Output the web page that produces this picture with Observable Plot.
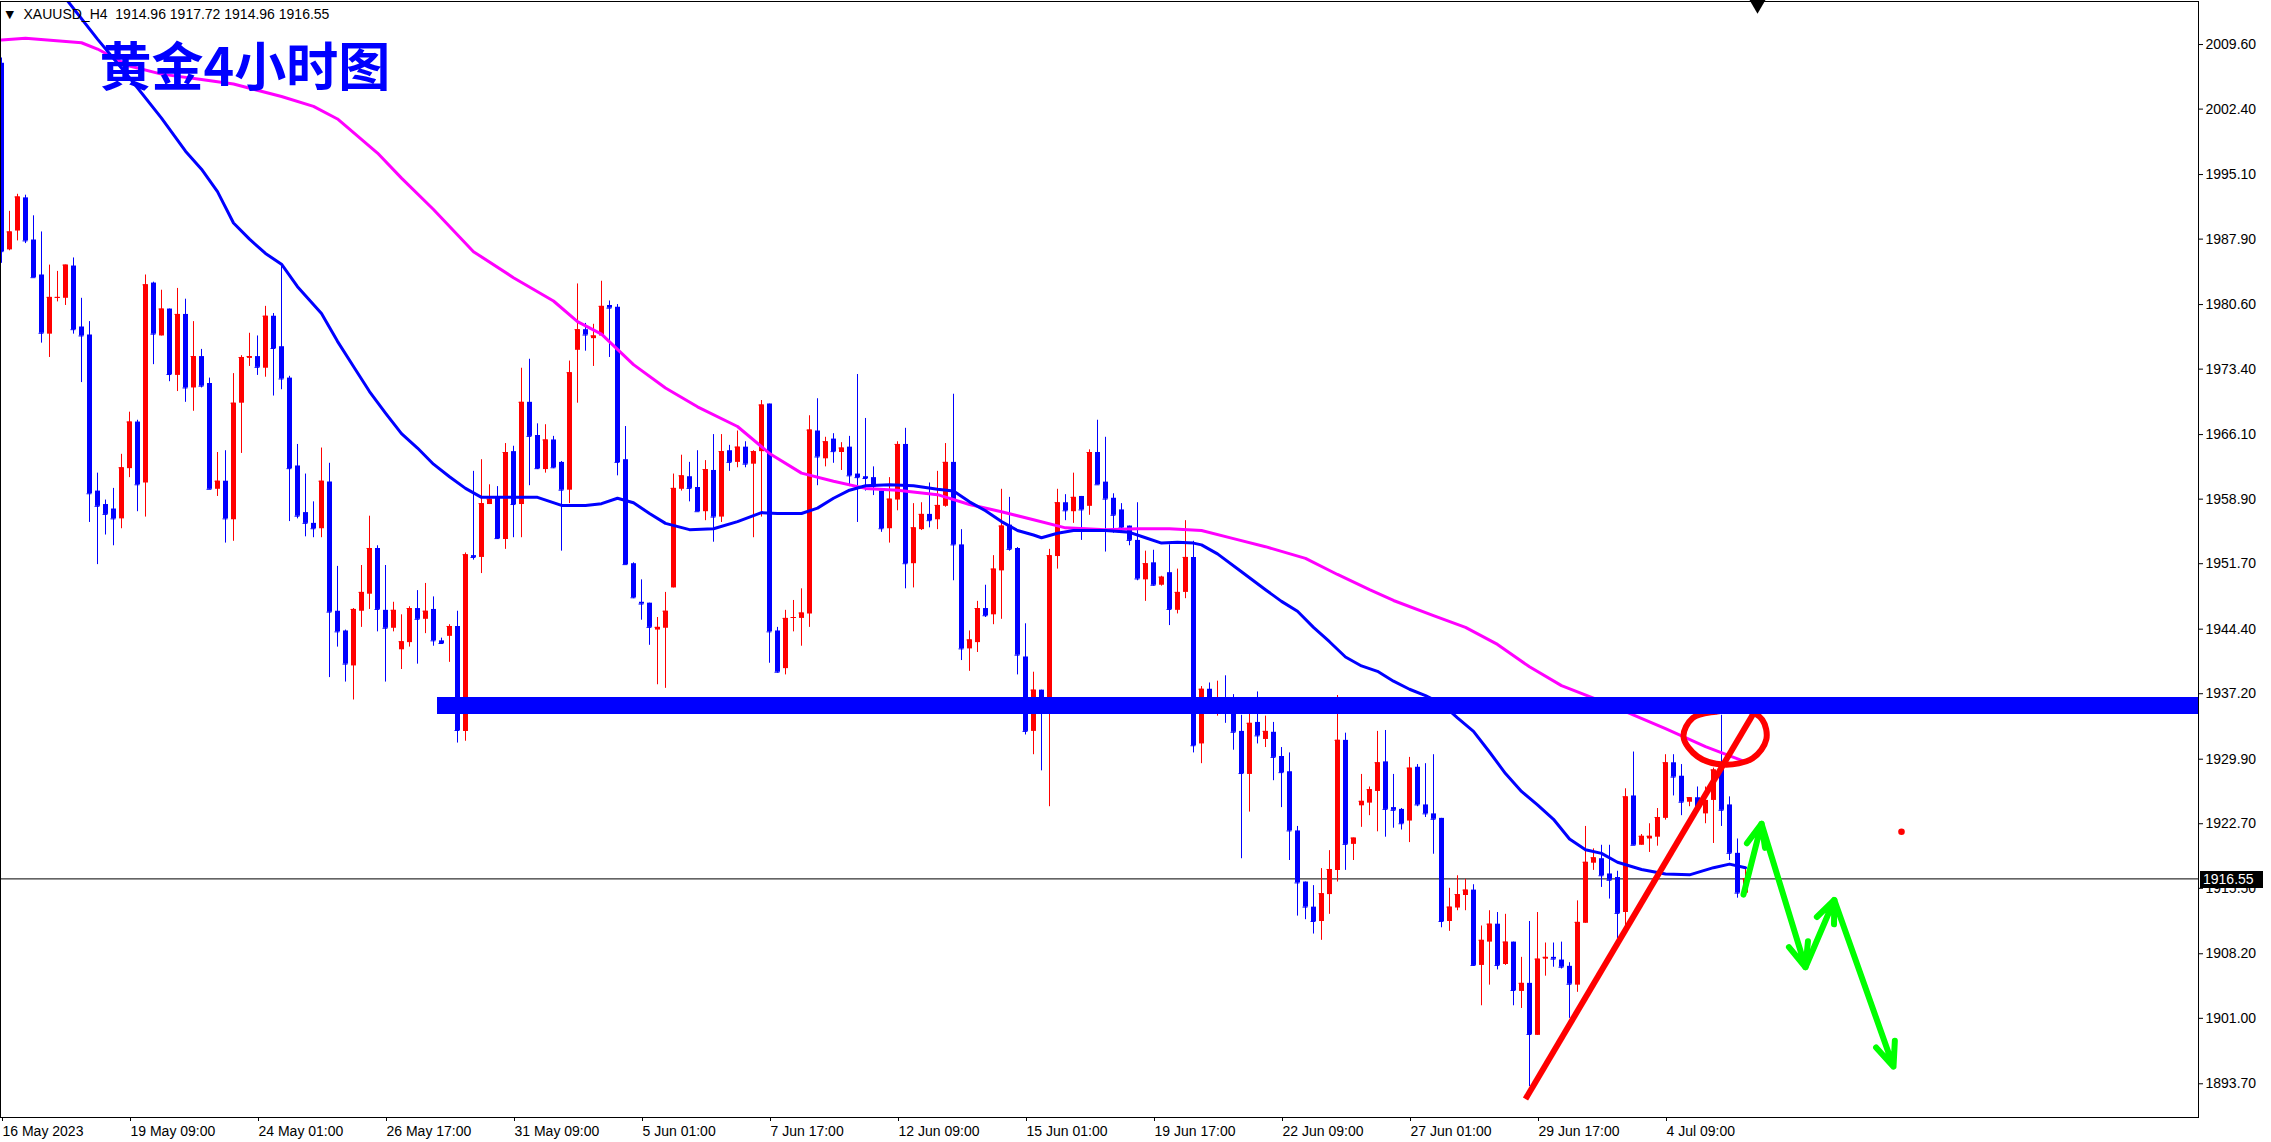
<!DOCTYPE html>
<html><head><meta charset="utf-8">
<script src="https://cdn.jsdelivr.net/npm/d3@7"></script>
<script src="https://cdn.jsdelivr.net/npm/@observablehq/plot@0.6"></script>
<style>
html,body{margin:0;padding:0;background:#fff;overflow:hidden;}
#chart{position:relative;width:2271px;height:1142px;}
#chart svg{position:absolute;left:0;top:0;}
#edge{position:absolute;right:0;top:0;width:4px;height:1142px;background:#ececec;}
#last{position:absolute;background:#000;color:#fff;font:14px 'Liberation Sans',Arial,sans-serif;height:17px;line-height:17px;width:60px;padding-left:3px;z-index:5;}
</style></head><body><div id="chart"><div id="edge"></div><div id="last"></div></div>
<script>
// ---- data (XAUUSD H4) ----
const opens = [
2007.5,1986.7,1988.8,1992.5,1987.8,1983.9,1977.3,1981.3,1981.3,1984.9,
1978.1,1977.2,1959.8,1958.3,1957.8,1956.7,1962.3,1967.5,1960.7,1983.0,
1977.1,1980.1,1972.7,1979.5,1971.3,1974.8,1971.8,1960.0,1960.9,1956.6,
1969.6,1974.6,1974.8,1973.5,1979.3,1975.9,1972.4,1962.6,1957.4,1956.2,
1955.6,1960.8,1946.4,1944.2,1940.3,1946.4,1948.3,1953.4,1946.5,1944.5,
1942.1,1942.9,1946.7,1945.5,1946.6,1943.1,1943.6,1944.7,1933.0,1952.6,
1952.4,1958.3,1959.0,1954.4,1964.2,1958.3,1969.7,1966.0,1962.2,1965.5,
1963.0,1959.9,1975.5,1977.8,1976.8,1977.1,1980.5,1980.3,1963.3,1951.7,
1947.4,1947.3,1944.3,1944.5,1949.0,1960.0,1961.4,1960.2,1957.5,1962.1,
1956.9,1964.3,1963.0,1964.7,1962.8,1964.2,1969.5,1944.2,1940.0,1945.6,
1945.6,1946.1,1966.5,1963.4,1965.6,1964.1,1964.7,1961.7,1961.4,1961.3,
1959.8,1955.6,1958.8,1965.0,1951.7,1955.5,1957.2,1956.6,1958.1,1963.0,
1953.8,1942.2,1942.9,1946.7,1946.0,1950.9,1956.0,1953.4,1941.3,1933.0,
1937.6,1935.9,1952.5,1958.5,1957.5,1959.2,1958.1,1964.1,1960.8,1959.0,
1957.7,1955.9,1954.3,1949.9,1951.8,1949.3,1950.7,1946.5,1948.5,1952.4,
1931.6,1937.7,1935.2,1936.3,1935.0,1933.0,1928.2,1934.0,1932.1,1932.9,
1930.2,1928.5,1921.9,1916.2,1913.4,1911.8,1914.8,1917.5,1932.0,1920.4,
1924.7,1925.0,1926.3,1929.6,1924.5,1924.3,1923.0,1929.0,1924.8,1923.8,
1923.3,1911.8,1913.3,1914.7,1915.3,1906.9,1909.5,1911.5,1907.0,1909.5,
1904.0,1904.9,1899.1,1907.6,1907.8,1907.5,1906.8,1904.7,1911.6,1918.3,
1918.8,1917.1,1916.7,1912.8,1925.8,1920.3,1921.0,1921.2,1923.3,1929.5,
1928.0,1925.1,1925.6,1923.8,1925.3,1929.1,1924.8,1919.4,1914.96];
const highs = [
2008.1,1991.0,1992.9,1992.8,1990.5,1988.7,1985.0,1984.3,1985.0,1985.8,
1981.3,1978.7,1961.8,1958.8,1960.1,1963.9,1968.6,1967.7,1983.9,1983.1,
1982.2,1980.1,1982.4,1981.2,1978.7,1975.6,1972.4,1964.1,1964.3,1972.9,
1974.9,1977.4,1977.1,1980.4,1979.6,1984.9,1972.6,1965.0,1961.7,1958.6,
1964.6,1962.9,1951.4,1944.3,1946.7,1951.5,1957.0,1953.7,1951.5,1947.4,
1946.0,1946.9,1948.7,1949.5,1948.0,1943.4,1944.9,1946.4,1952.9,1962.0,
1963.3,1960.5,1960.3,1965.1,1964.8,1973.5,1974.5,1967.3,1967.2,1965.9,
1963.1,1974.3,1982.9,1978.5,1978.4,1983.2,1981.0,1980.6,1967.0,1951.8,
1949.9,1947.3,1945.7,1948.5,1961.7,1963.8,1963.0,1964.3,1963.2,1966.1,
1966.1,1964.9,1966.5,1965.3,1964.3,1969.9,1969.5,1944.6,1946.5,1947.6,
1948.9,1968.2,1970.1,1965.8,1966.2,1965.2,1965.9,1972.8,1967.9,1962.5,
1959.8,1961.3,1965.3,1966.8,1958.4,1958.5,1960.7,1962.0,1965.1,1970.6,
1955.5,1944.2,1947.5,1949.3,1952.6,1960.0,1959.1,1953.5,1945.0,1939.6,
1937.6,1953.3,1960.0,1959.4,1961.8,1959.2,1964.4,1967.7,1965.8,1959.5,
1958.4,1955.9,1958.5,1953.1,1953.2,1950.3,1953.8,1951.1,1956.5,1954.2,
1938.0,1938.4,1938.6,1939.2,1937.1,1934.8,1935.0,1937.4,1934.7,1934.0,
1931.2,1930.6,1922.4,1916.2,1915.8,1917.7,1919.7,1937.0,1932.8,1921.1,
1928.2,1926.8,1933.0,1933.1,1928.2,1924.4,1930.1,1929.3,1929.4,1930.4,
1923.3,1915.5,1916.9,1916.5,1915.9,1911.3,1913.0,1912.8,1912.6,1909.5,
1907.8,1911.8,1912.8,1909.4,1909.4,1909.5,1907.2,1914.1,1922.4,1919.9,
1920.3,1920.3,1917.4,1926.6,1930.7,1921.5,1922.7,1924.4,1930.4,1930.4,
1929.3,1925.6,1926.8,1926.8,1928.9,1934.8,1925.7,1921.0,1917.72];
const lows = [
1985.2,1986.6,1987.7,1987.4,1983.6,1976.3,1974.7,1980.9,1980.5,1977.3,
1971.9,1956.3,1951.6,1954.9,1953.7,1955.6,1961.3,1957.5,1956.9,1973.9,
1977.1,1972.0,1970.9,1969.7,1968.7,1971.3,1960.0,1959.2,1954.0,1954.2,
1964.0,1973.7,1972.7,1972.5,1970.4,1971.1,1956.4,1956.7,1954.7,1954.6,
1954.6,1939.0,1942.4,1938.5,1936.5,1944.6,1946.6,1944.1,1938.5,1944.1,
1939.9,1942.4,1940.5,1943.9,1942.5,1942.7,1940.7,1931.7,1931.9,1952.1,
1950.6,1958.3,1954.4,1953.3,1954.6,1954.6,1960.4,1962.2,1961.8,1962.3,
1953.1,1958.4,1969.6,1975.4,1973.7,1977.1,1974.7,1961.5,1951.6,1947.8,
1945.4,1942.6,1938.2,1937.8,1949.0,1959.8,1958.6,1957.5,1956.5,1954.1,
1956.3,1962.0,1962.4,1962.4,1954.6,1956.9,1940.6,1939.5,1939.3,1944.1,
1942.5,1944.6,1960.4,1962.5,1962.9,1962.1,1960.3,1956.3,1959.8,1959.3,
1955.2,1954.0,1957.6,1948.9,1949.0,1955.4,1955.7,1955.5,1958.0,1949.8,
1940.9,1939.7,1941.8,1945.7,1944.9,1945.5,1953.1,1939.3,1932.6,1930.4,
1928.6,1924.6,1951.1,1956.5,1956.2,1954.3,1957.1,1960.5,1953.0,1955.1,
1955.3,1953.7,1949.8,1947.5,1949.2,1949.2,1944.8,1946.1,1947.8,1930.6,
1929.4,1935.4,1934.7,1933.9,1930.9,1918.8,1924.0,1931.6,1931.2,1927.5,
1924.5,1918.6,1912.4,1912.0,1910.4,1909.7,1912.6,1916.2,1917.5,1918.6,
1922.3,1923.6,1921.8,1921.2,1922.2,1922.0,1920.6,1924.6,1923.4,1919.3,
1911.1,1910.7,1913.0,1913.0,1906.8,1902.4,1904.7,1906.4,1906.9,1902.4,
1902.1,1893.4,1899.1,1905.7,1906.7,1906.5,1901.0,1903.9,1911.6,1917.5,
1915.6,1914.3,1909.9,1911.0,1920.3,1920.3,1919.5,1920.2,1923.1,1925.8,
1923.6,1924.6,1924.0,1922.7,1920.5,1922.4,1918.6,1914.4,1914.96];
const closes = [
1986.5,1988.7,1992.6,1987.7,1983.6,1977.4,1981.4,1981.4,1985.0,1977.8,
1977.1,1959.5,1958.1,1957.2,1956.7,1962.4,1967.5,1960.5,1982.8,1977.3,
1980.1,1972.8,1979.5,1971.3,1974.8,1971.5,1960.0,1960.9,1956.7,1969.6,
1974.7,1974.8,1973.6,1979.3,1975.7,1972.3,1962.3,1957.0,1956.2,1955.6,
1960.9,1946.3,1944.1,1940.5,1946.6,1948.5,1953.4,1946.6,1944.5,1946.5,
1943.0,1946.7,1945.5,1946.4,1943.1,1942.8,1944.7,1933.1,1952.7,1952.4,
1958.4,1958.9,1954.5,1964.1,1958.3,1969.7,1965.9,1962.3,1965.5,1962.4,
1959.9,1973.0,1977.8,1977.2,1977.1,1980.4,1980.2,1963.0,1951.6,1947.9,
1947.2,1944.6,1944.6,1946.4,1960.1,1961.5,1960.1,1957.5,1962.2,1956.9,
1964.2,1963.0,1964.7,1962.8,1964.2,1969.4,1944.1,1939.6,1945.6,1945.7,
1946.2,1966.6,1963.6,1965.3,1964.2,1964.6,1961.5,1961.3,1961.2,1960.3,
1955.6,1958.9,1965.0,1951.7,1955.7,1957.2,1956.5,1958.2,1963.0,1953.8,
1942.2,1943.2,1946.7,1945.9,1951.1,1955.9,1953.3,1941.5,1933.0,1937.6,
1935.8,1952.6,1958.5,1957.6,1959.1,1957.7,1964.1,1960.5,1958.9,1957.1,
1955.7,1954.3,1950.0,1951.7,1949.3,1950.2,1946.6,1948.5,1952.4,1931.4,
1937.7,1936.0,1936.3,1935.0,1932.9,1928.3,1933.9,1932.5,1933.0,1930.1,
1928.4,1921.9,1916.1,1913.4,1911.8,1914.9,1917.6,1932.0,1920.4,1921.1,
1925.2,1926.5,1929.5,1924.3,1924.2,1922.7,1928.9,1924.8,1923.8,1923.2,
1911.8,1913.4,1914.8,1915.3,1906.9,1909.7,1911.5,1906.9,1909.5,1904.1,
1904.9,1899.2,1907.6,1907.8,1907.6,1906.7,1904.8,1911.7,1918.4,1918.9,
1916.9,1916.4,1912.7,1925.7,1920.3,1921.3,1921.3,1923.4,1929.5,1927.9,
1925.1,1925.6,1924.4,1925.3,1928.7,1924.2,1919.4,1914.96,1916.55];

const xTickIndex = [0,16,32,48,64,80,96,112,128,144,160,176,192,208];
const xTickLabels = ["16 May 2023","19 May 09:00","24 May 01:00","26 May 17:00","31 May 09:00","5 Jun 01:00","7 Jun 17:00","12 Jun 09:00","15 Jun 01:00","19 Jun 17:00","22 Jun 09:00","27 Jun 01:00","29 Jun 17:00","4 Jul 09:00"];
const yTicks = [2009.6,2002.4,1995.1,1987.9,1980.6,1973.4,1966.1,1958.9,1951.7,1944.4,1937.2,1929.9,1922.7,1915.5,1908.2,1901.0,1893.7];

const blueMaIndex = [7,12,16,20,23,25,27,29,31,33,35,37,40,42,44,46,48,50,52,54,56,58,60,64,67,70,73,75,77,79,81,83,86,89,92,95,97,100,102,104,106,108,111,114,117,119,121,123,125,127,129,130,132,134,138,141,143,145,147,149,150,152,155,158,160,162,164,166,168,170,172,174,176,178,180,182,184,186,188,190,192,194,196,198,200,202,205,208,211,214,216,218];
const blueMaValue = [2015.9,2010.2,2005.9,2001.4,1997.7,1995.7,1993.2,1989.7,1987.9,1986.3,1985.1,1982.6,1979.6,1976.5,1973.7,1970.9,1968.5,1966.2,1964.6,1962.8,1961.4,1960.1,1959.1,1959.1,1959.1,1958.2,1958.2,1958.4,1959.0,1958.5,1957.3,1956.2,1955.5,1955.6,1956.4,1957.4,1957.3,1957.3,1957.9,1959.0,1959.9,1960.4,1960.5,1960.4,1960.0,1959.8,1958.6,1957.6,1956.4,1955.4,1954.9,1954.6,1955.1,1955.4,1955.4,1955.2,1954.6,1954.0,1954.1,1954.0,1953.8,1952.8,1950.8,1948.8,1947.5,1946.4,1944.6,1943.0,1941.3,1940.3,1939.7,1938.6,1937.7,1937.0,1936.1,1934.5,1933.0,1930.7,1928.3,1926.3,1924.8,1923.2,1921.0,1919.8,1919.4,1918.4,1917.6,1917.1,1917.0,1917.8,1918.2,1917.8];
const magentaMaIndex = [0,3,10,12,16,20,25,29,35,39,42,47,50,54,59,64,69,72,75,79,83,87,92,96,100,104,108,112,117,121,125,129,133,138,142,146,150,154,158,163,167,171,174,179,183,187,191,195,199,203,208,213,218];
const magentaMaValue = [2010.1,2010.3,2009.8,2009.1,2007.2,2006.3,2005.7,2005.2,2003.8,2002.7,2001.3,1997.5,1994.7,1991.2,1986.5,1983.6,1981.0,1978.7,1977.3,1973.9,1971.3,1969.2,1967.0,1964.0,1961.8,1960.9,1960.1,1959.9,1959.4,1958.3,1957.5,1956.6,1955.7,1955.5,1955.6,1955.6,1955.4,1954.5,1953.6,1952.3,1950.5,1948.8,1947.6,1945.9,1944.6,1942.7,1940.2,1938.1,1936.7,1935.2,1933.3,1931.3,1929.6];

const lastPrice = 1916.55;
const header = "XAUUSD_H4\u00a0\u00a01914.96 1917.72 1914.96 1916.55";
const title = "黄金4小时图";
const zonePrice = 1935.9, zoneStartIndex = 54.5;
const trendIndex = [190.5, 219.0], trendPrice = [1892.0, 1935.0];
const ringIndex = [210.25,211.4,214.25,218.0,220.1,220.6,218.9,215.25,212.0];
const ringPrice = [1932.4,1934.5,1935.2,1935.4,1934.3,1932.1,1930.0,1929.3,1930.2];
const pathIndex = [217.75,220.0,225.5,229.1,236.5];
const pathPrice = [1914.8,1922.7,1906.7,1914.2,1895.6];
const dotIndex = 237.5, dotPrice = 1921.8;
const shiftIndex = 219.5;

// ---- build tables ----
const candles = opens.map((o, i) => ({i, open: o, high: highs[i], low: lows[i], close: closes[i]}));
const up = candles.filter(d => d.close > d.open);
const down = candles.filter(d => d.close <= d.open);
const blueMa = blueMaIndex.map((i, k) => ({i, v: blueMaValue[k]}));
const magMa = magentaMaIndex.map((i, k) => ({i, v: magentaMaValue[k]}));
const ring = ringIndex.map((i, k) => ({i, v: ringPrice[k]}));
const arrows = pathIndex.slice(1).map((i, k) => ({x1: pathIndex[k], y1: pathPrice[k], x2: i, y2: pathPrice[k + 1]}));
const labelOf = new Map(xTickIndex.map((d, k) => [d, xTickLabels[k]]));
const RED = "#ff0000", BLUE = "#0000ff";
const xDomain = [-0.125, 274.625];
const W = 2271, H = 1142, MR = 73;

const chart = Plot.plot({
  width: W, height: H,
  marginLeft: 0, marginRight: MR, marginTop: 1, marginBottom: 25,
  x: {type: "linear", domain: xDomain},
  y: {domain: [1889.94, 2014.40]},
  style: {background: "#fff", color: "#000", fontFamily: "'Liberation Sans', Arial, sans-serif", fontSize: "14px", overflow: "visible"},
  marks: [
    Plot.ruleY([lastPrice], {stroke: "#000", strokeWidth: 1}),
    Plot.ruleX(up, {x: "i", y1: "low", y2: "high", stroke: RED, strokeWidth: 1}),
    Plot.ruleX(down, {x: "i", y1: "low", y2: "high", stroke: BLUE, strokeWidth: 1}),
    Plot.ruleX(up, {x: "i", y1: "open", y2: "close", stroke: RED, strokeWidth: 5}),
    Plot.ruleX(down, {x: "i", y1: "open", y2: "close", stroke: BLUE, strokeWidth: 5}),
    Plot.ruleY(up, {y: "close", x1: d => d.i - 0.31, x2: d => d.i + 0.31, stroke: RED, strokeWidth: 1}),
    Plot.ruleY(down, {y: "close", x1: d => d.i - 0.31, x2: d => d.i + 0.31, stroke: BLUE, strokeWidth: 1}),
    Plot.line(magMa, {x: "i", y: "v", stroke: "#ff00ff", strokeWidth: 3, clip: true}),
    Plot.line(blueMa, {x: "i", y: "v", stroke: BLUE, strokeWidth: 3, clip: true}),
    Plot.link([0], {x1: () => trendIndex[0], y1: () => trendPrice[0], x2: () => trendIndex[1], y2: () => trendPrice[1], stroke: RED, strokeWidth: 6}),
    Plot.line(ring, {x: "i", y: "v", curve: "catmull-rom-closed", stroke: RED, strokeWidth: 6}),
    Plot.ruleY([zonePrice], {x1: zoneStartIndex, x2: xDomain[1], stroke: BLUE, strokeWidth: 17}),
    Plot.arrow(arrows, {x1: "x1", y1: "y1", x2: "x2", y2: "y2", stroke: "#00ff00", strokeWidth: 6, headAngle: 45, headLength: 6.5}),
    Plot.dot([0], {x: () => dotIndex, y: () => dotPrice, r: 3.3, fill: RED, stroke: null}),
    Plot.frame({stroke: "#000"}),
    Plot.dot([0], {x: () => shiftIndex, frameAnchor: "top", dy: 3, symbol: "triangle", rotate: 180, r: 6, fill: "#000", stroke: null}),
    Plot.axisY({anchor: "right", ticks: yTicks, tickFormat: d => d.toFixed(2), tickSize: 4, tickPadding: 3, fontSize: 14, label: null}),
    Plot.axisX({anchor: "bottom", ticks: xTickIndex, tickFormat: d => labelOf.get(d), tickSize: 4, tickPadding: 5, textAnchor: "start", dx: 1, fontSize: 14, label: null}),
    Plot.text(["▼"], {frameAnchor: "top-left", dx: 5, dy: 9, lineAnchor: "top", textAnchor: "start", fontSize: 11, fontFamily: "DejaVu Sans", fill: "#000"}),
    Plot.text([header], {frameAnchor: "top-left", dx: 23, dy: 8, lineAnchor: "top", textAnchor: "start", fontSize: 14, fill: "#000"}),
    Plot.text([title], {frameAnchor: "top-left", dx: 99, dy: 48, lineAnchor: "top", textAnchor: "start", fontSize: 52, fontWeight: "bold", fontFamily: "'Noto Sans CJK SC'", fill: BLUE})
  ]
});

document.getElementById("chart").appendChild(chart);

// last-price label on the price axis, positioned through the y scale
const yy = chart.scale("y").apply(lastPrice);
const lab = document.getElementById("last");
lab.textContent = lastPrice.toFixed(2);
lab.style.left = (W - MR + 2) + "px";
lab.style.top = (Math.round(yy) - 7) + "px";
</script></body></html>
